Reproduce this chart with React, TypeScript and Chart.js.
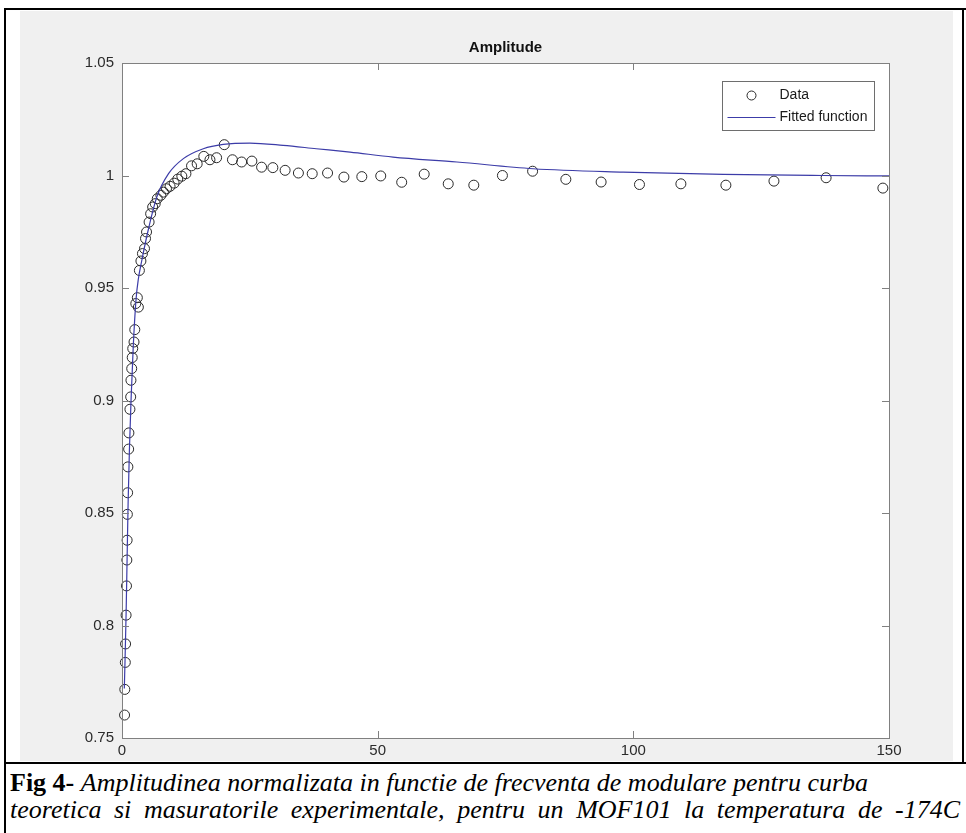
import React, { useEffect, useRef } from "react";
import { Chart, registerables } from "chart.js";

Chart.register(...registerables);

// Measured data (frequency, normalized amplitude)
const dataX = [
  0.5, 0.55, 0.65, 0.7, 0.8, 0.88, 0.95, 1.0, 1.05, 1.1, 1.15, 1.3, 1.35, 1.55, 1.7, 1.75, 1.9, 2.0, 2.1, 2.35,
  2.5, 2.7, 3.0, 3.2, 3.4, 3.7, 4.0, 4.4, 4.6, 4.8, 5.3, 5.6, 6.0, 6.5, 6.9, 7.6, 8.1, 8.7, 9.4, 10.2,
  10.9, 11.7, 12.5, 13.6, 14.7, 16.0, 17.2, 18.5, 20.0, 21.6, 23.4, 25.4, 27.3, 29.5, 31.9, 34.5, 37.2, 40.2, 43.4, 46.9,
  50.6, 54.7, 59.1, 63.8, 68.8, 74.4, 80.3, 86.8, 93.7, 101.2, 109.3, 118.1, 127.5, 137.7, 148.8,
];
const dataY = [
  0.7602, 0.7716, 0.7836, 0.7918, 0.8046, 0.8176, 0.8291, 0.8379, 0.8494, 0.859, 0.8705, 0.8784, 0.8856, 0.8961, 0.9016, 0.909, 0.9142, 0.9191, 0.9231, 0.926,
  0.9315, 0.9431, 0.9457, 0.9415, 0.9578, 0.962, 0.9653, 0.9675, 0.972, 0.9749, 0.9793, 0.983, 0.986, 0.9875, 0.9897, 0.9912, 0.9926, 0.9941, 0.9952, 0.9966,
  0.9984, 0.9997, 1.0008, 1.0043, 1.0052, 1.0085, 1.007, 1.0079, 1.0137, 1.007, 1.006, 1.0064, 1.0037, 1.0035, 1.0023, 1.0011, 1.0008, 1.0011, 0.9993, 0.9995,
  0.9998, 0.997, 1.0006, 0.9963, 0.9957, 1.0, 1.0019, 0.9983, 0.9971, 0.996, 0.9963, 0.9957, 0.9975, 0.999, 0.9944,
];

// Fitted function
const fitX = [0.45, 0.6, 0.8, 1.0, 1.2, 1.45, 1.75, 2.2, 2.75, 3.2, 3.85, 5.15, 6.8, 9.1, 12.0, 15.9, 19.8, 25.0, 31.5, 38.0, 44.6, 53.0, 65.5, 80.4, 98.0, 117.6, 137.0, 150.0];
const fitY = [0.772, 0.785, 0.805, 0.83, 0.855, 0.878, 0.899, 0.924, 0.945, 0.954, 0.962, 0.976, 0.9904, 1.0008, 1.0075, 1.0119, 1.0138, 1.0144, 1.0134, 1.0119, 1.0104, 1.0082, 1.006, 1.003, 1.0015, 1.0005, 1.0, 0.9998];

const xTicks = [0, 50, 100, 150];
const yTicks = [0.75, 0.8, 0.85, 0.9, 0.95, 1, 1.05];
const yTickLabels = ["0.75", "0.8", "0.85", "0.9", "0.95", "1", "1.05"];

const chartTitle = "Amplitude";

const AXIS_COLOR = "#808080";
const FONT = "'Liberation Sans', Arial, Helvetica, sans-serif";

const boxPlugin = {
  id: "matlabBox",
  beforeDraw(chart: any) {
    const { ctx, chartArea: a } = chart;
    ctx.save();
    ctx.fillStyle = "#ffffff";
    ctx.fillRect(a.left, a.top, a.right - a.left, a.bottom - a.top);
    ctx.restore();
  },
  afterDatasetsDraw(chart: any) {
    const { ctx, chartArea: a, scales } = chart;
    ctx.save();
    ctx.strokeStyle = AXIS_COLOR;
    ctx.lineWidth = 1;
    ctx.strokeRect(Math.round(a.left) + 0.5, Math.round(a.top) + 0.5, Math.round(a.right - a.left), Math.round(a.bottom - a.top));
    const tl = 7;
    ctx.beginPath();
    scales.x.ticks.forEach((t: any) => {
      const px = Math.round(scales.x.getPixelForValue(t.value)) + 0.5;
      ctx.moveTo(px, a.bottom);
      ctx.lineTo(px, a.bottom - tl);
      ctx.moveTo(px, a.top);
      ctx.lineTo(px, a.top + tl);
    });
    scales.y.ticks.forEach((t: any) => {
      const py = Math.round(scales.y.getPixelForValue(t.value)) + 0.5;
      ctx.moveTo(a.left, py);
      ctx.lineTo(a.left + tl, py);
      ctx.moveTo(a.right, py);
      ctx.lineTo(a.right - tl, py);
    });
    ctx.stroke();
    ctx.restore();
  },
  afterDraw(chart: any) {
    const { ctx, chartArea: a } = chart;
    const ds = chart.data.datasets;
    ctx.save();
    ctx.fillStyle = "#111111";
    ctx.font = `bold 15px ${FONT}`;
    ctx.textAlign = "center";
    ctx.textBaseline = "middle";
    ctx.fillText(chartTitle, (a.left + a.right) / 2, a.top - 15);
    ctx.restore();

    const w = 152, h = 49;
    const bx = Math.round(a.right - 15 - w) + 0.5;
    const by = Math.round(a.top + 18) + 0.5;
    ctx.save();
    ctx.fillStyle = "#ffffff";
    ctx.fillRect(bx, by, w, h);
    ctx.strokeStyle = "#6e6e6e";
    ctx.lineWidth = 1;
    ctx.strokeRect(bx, by, w, h);
    ctx.beginPath();
    ctx.strokeStyle = ds[0].borderColor;
    ctx.arc(bx + 29, by + 14, 4.5, 0, Math.PI * 2);
    ctx.stroke();
    ctx.beginPath();
    ctx.strokeStyle = ds[1].borderColor;
    ctx.lineWidth = 1.2;
    ctx.moveTo(bx + 5, by + 36);
    ctx.lineTo(bx + 53, by + 36);
    ctx.stroke();
    ctx.fillStyle = "#1a1a1a";
    ctx.font = `14px ${FONT}`;
    ctx.textBaseline = "middle";
    ctx.textAlign = "left";
    ctx.fillText(ds[0].label, bx + 57, by + 14);
    ctx.fillText(ds[1].label, bx + 57, by + 36);
    ctx.restore();
  },
};

function ChartView() {
  const ref = useRef<HTMLCanvasElement | null>(null);
  useEffect(() => {
    if (!ref.current) return;
    const chart = new Chart(ref.current, {
      type: "scatter",
      data: {
        datasets: [
          {
            label: "Data",
            data: dataX.map((x, i) => ({ x, y: dataY[i] })),
            showLine: false,
            pointStyle: "circle",
            pointRadius: 5,
            pointBorderWidth: 1,
            borderColor: "#2a2a2a",
            backgroundColor: "rgba(0,0,0,0)",
            clip: false,
            order: 2,
          } as any,
          {
            label: "Fitted function",
            data: fitX.map((x, i) => ({ x, y: fitY[i] })),
            showLine: true,
            pointRadius: 0,
            borderColor: "#3c3ca8",
            backgroundColor: "#3c3ca8",
            borderWidth: 1.2,
            cubicInterpolationMode: "monotone",
            fill: false,
            order: 1,
          } as any,
        ],
      },
      options: {
        responsive: false,
        animation: false,
        devicePixelRatio: 1,
        layout: { padding: { left: 0, right: 64, top: 52, bottom: 0 } },
        plugins: {
          legend: { display: false },
          tooltip: { enabled: false },
          title: { display: false },
        },
        scales: {
          x: {
            type: "linear",
            min: 0,
            max: 150,
            afterBuildTicks: (s: any) => {
              s.ticks = xTicks.map((v) => ({ value: v }));
            },
            afterFit: (s: any) => {
              s.height = 23;
            },
            grid: { display: false, drawTicks: false },
            border: { display: false },
            ticks: {
              padding: 4,
              color: "#2b2b2b",
              font: { family: FONT, size: 15 },
              maxRotation: 0,
              callback: (v: any) => String(v),
            },
          },
          y: {
            type: "linear",
            min: 0.75,
            max: 1.05,
            afterBuildTicks: (s: any) => {
              s.ticks = yTicks.map((v) => ({ value: v }));
            },
            afterFit: (s: any) => {
              s.width = 102;
            },
            grid: { display: false, drawTicks: false },
            border: { display: false },
            ticks: {
              padding: 8,
              color: "#2b2b2b",
              font: { family: FONT, size: 15 },
              callback: (v: any) => {
                const i = yTicks.findIndex((t) => Math.abs(t - v) < 1e-9);
                return i >= 0 ? yTickLabels[i] : "";
              },
            },
          },
        },
      },
      plugins: [boxPlugin],
    } as any);
    return () => chart.destroy();
  }, []);
  return <canvas ref={ref} width={933} height={750} style={{ display: "block", width: 933, height: 750 }} />;
}

export default function App() {
  const black = "#000000";
  const serif = "'Liberation Serif', 'Times New Roman', serif";
  return (
    <div style={{ position: "fixed", left: 0, top: 0, width: 966, height: 833, background: "#ffffff", overflow: "hidden" }}>
      <div style={{ position: "absolute", left: 20, top: 11, width: 933, height: 750, background: "#f0f0f0" }}>
        <ChartView />
      </div>
      <div style={{ position: "absolute", left: 4, top: 8, width: 962, height: 2, background: black }} />
      <div style={{ position: "absolute", left: 4, top: 8, width: 2, height: 825, background: black }} />
      <div style={{ position: "absolute", left: 962, top: 8, width: 2, height: 756, background: black }} />
      <div style={{ position: "absolute", left: 4, top: 762, width: 962, height: 2, background: black }} />
      <div
        style={{
          position: "absolute",
          left: 10,
          top: 769,
          width: 950,
          fontFamily: serif,
          fontSize: 26,
          lineHeight: "27px",
          color: "#000",
        }}
      >
        <div style={{ whiteSpace: "nowrap" }}>
          <b>Fig 4-</b> <i>Amplitudinea normalizata in functie de frecventa de modulare pentru curba</i>
        </div>
        <div style={{ textAlign: "justify", textAlignLast: "justify", whiteSpace: "nowrap" }}>
          <i>teoretica si masuratorile experimentale, pentru un MOF101 la temperatura de -174C</i>
        </div>
      </div>
    </div>
  );
}
